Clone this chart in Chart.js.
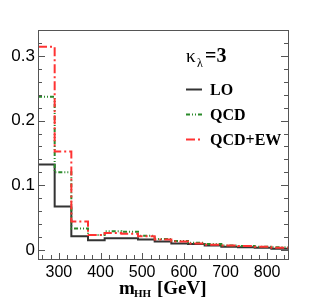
<!DOCTYPE html>
<html>
<head>
<meta charset="utf-8">
<script src="https://cdn.jsdelivr.net/npm/chart.js@4/dist/chart.umd.min.js"></script>
<style>
html,body{margin:0;padding:0;background:#fff;}
#c{display:block;}
</style>
</head>
<body>
<canvas id="c" width="321" height="306"></canvas>
<script>
// Bin edges (GeV), 40 GeV bins from 250 to 850
const binEdges = [250,290,330,370,410,450,490,530,570,610,650,690,730,770,810,850];
const loValues    = [0.132,0.067,0.021,0.015,0.018,0.018,0.016,0.013,0.010,0.009,0.007,0.005,0.004,0.0035,0.002];
const qcdValues   = [0.237,0.120,0.033,0.023,0.029,0.028,0.022,0.017,0.014,0.011,0.009,0.007,0.006,0.005,0.004];
const qcdewValues = [0.314,0.152,0.044,0.023,0.026,0.025,0.021,0.016,0.013,0.010,0.008,0.007,0.006,0.005,0.0035];
const xTickLabels = [300,400,500,600,700,800];
const yTickLabels = [0,0.1,0.2,0.3];
const seriesNames = ['LO','QCD','QCD+EW'];

function histPoints(vals){
  const pts = vals.map((v,i)=>({x:binEdges[i], y:v}));
  pts.push({x:binEdges[binEdges.length-1], y:vals[vals.length-1]});
  return pts;
}

const styles = [
  {color:'#333333', width:2, dash:[]},
  {color:'#2a8a2a', width:2, dash:[4,2,1,2,1,2]},
  {color:'#ff3333', width:2, dash:[9,3,2,3]}
];
const allVals = [loValues, qcdValues, qcdewValues];

const framePlugin = {
  id:'frame',
  afterDraw(chart){
    const ctx = chart.ctx, a = chart.chartArea;
    const xs = chart.scales.x, ys = chart.scales.y;
    ctx.save();
    ctx.strokeStyle = '#555';
    ctx.lineWidth = 1;
    ctx.strokeRect(Math.round(a.left)+0.5, Math.round(a.top)+0.5, Math.round(a.right-a.left), Math.round(a.bottom-a.top));
    ctx.beginPath();
    // y ticks (left & right, inward)
    for(let k=0;k<=17;k++){
      const v = k*0.02;
      const py = Math.round(ys.getPixelForValue(v))+0.5;
      const major = (k%5===0);
      const len = major?7:4;
      ctx.moveTo(a.left, py); ctx.lineTo(a.left+len, py);
      ctx.moveTo(a.right, py); ctx.lineTo(a.right-len, py);
    }
    // x ticks (bottom, inward)
    for(let v=260; v<850; v+=20){
      const px = Math.round(xs.getPixelForValue(v))+0.5;
      const major = (v%100===0);
      const len = major?6:4;
      ctx.moveTo(px, a.bottom); ctx.lineTo(px, a.bottom-len);
    }
    ctx.stroke();

    // legend header
    ctx.fillStyle = '#000';
    ctx.textBaseline = 'alphabetic';
    ctx.font = '19px "Liberation Serif", serif';
    ctx.fillText('κ', 186, 62);
    ctx.font = '12px "Liberation Serif", serif';
    ctx.fillText('λ', 197, 67);
    ctx.font = 'bold 20px "Liberation Serif", serif';
    ctx.fillText('=3', 205, 62);

    // legend entries
    const ly = [89, 114, 139];
    for(let i=0;i<3;i++){
      const s = styles[i];
      ctx.strokeStyle = s.color; ctx.lineWidth = s.width; ctx.setLineDash(s.dash);
      ctx.beginPath(); ctx.moveTo(186, ly[i]+0.5); ctx.lineTo(202, ly[i]+0.5); ctx.stroke();
      ctx.setLineDash([]);
      ctx.fillStyle = '#000';
      ctx.font = 'bold 16px "Liberation Serif", serif';
      ctx.fillText(seriesNames[i], 210, ly[i]+6);
    }

    // x axis title
    ctx.font = 'bold 19px "Liberation Serif", serif';
    ctx.fillText('m', 119, 294);
    ctx.font = 'bold 11px "Liberation Serif", serif';
    ctx.fillText('HH', 134, 297);
    ctx.font = 'bold 19px "Liberation Serif", serif';
    ctx.fillText('[GeV]', 157, 294);
    ctx.restore();
  }
};

new Chart(document.getElementById('c'), {
  type:'line',
  data:{
    datasets: allVals.map((vals,i)=>({
      label: seriesNames[i],
      data: histPoints(vals),
      stepped: true,
      borderColor: styles[i].color,
      borderWidth: styles[i].width,
      borderDash: styles[i].dash,
      pointRadius: 0,
      fill: false,
      tension: 0
    })).reverse()
  },
  options:{
    responsive:false,
    animation:false,
    layout:{padding:{top:30, right:33, left:0, bottom:0}},
    plugins:{legend:{display:false}, tooltip:{enabled:false}},
    scales:{
      x:{
        type:'linear', min:250, max:850,
        afterFit(s){ s.height = 47; },
        afterBuildTicks(s){ s.ticks = xTickLabels.map(v=>({value:v})); },
        grid:{display:false, drawTicks:false},
        border:{display:false},
        ticks:{color:'#000', padding:4, maxRotation:0, autoSkip:false,
               font:{family:'"Liberation Sans", Arial, sans-serif', size:16}}
      },
      y:{
        type:'linear', min:-0.014, max:0.34,
        afterFit(s){ s.width = 38; },
        afterBuildTicks(s){ s.ticks = yTickLabels.map(v=>({value:v})); },
        grid:{display:false, drawTicks:false},
        border:{display:false},
        ticks:{color:'#000', padding:3, autoSkip:false,
               callback:(v)=> (Math.abs(v)<1e-9 ? '0' : String(Math.round(v*10)/10)),
               font:{family:'"Liberation Sans", Arial, sans-serif', size:17}}
      }
    }
  },
  plugins:[framePlugin]
});
</script>
</body>
</html>
